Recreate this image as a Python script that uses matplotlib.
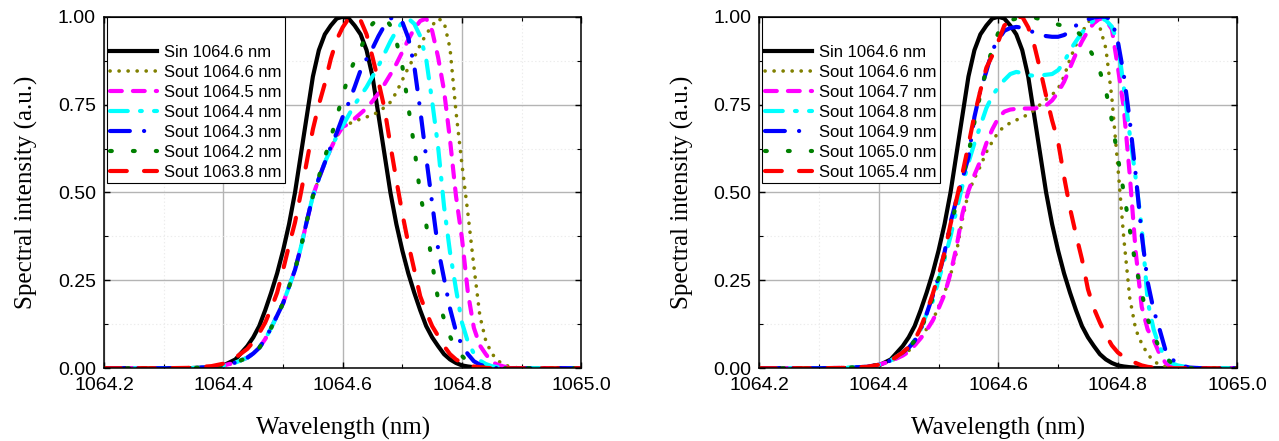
"""
Two-panel spectra: input pulse vs output spectra for several signal wavelengths.
"""

import matplotlib
matplotlib.use("Agg")
import matplotlib.pyplot as plt
from matplotlib.ticker import MultipleLocator

plt.rcParams["lines.scale_dashes"] = False

# wavelength grid (nm): coarse tails, 0.01 nm steps across the spectra
WL = [1064.20, 1064.30, 1064.34, 1064.38, 1064.40, 1064.42,
      1064.44, 1064.45, 1064.46, 1064.47, 1064.48, 1064.49, 1064.50, 1064.51, 1064.52, 1064.53,
      1064.54, 1064.55, 1064.56, 1064.57, 1064.58, 1064.59, 1064.60, 1064.61, 1064.62, 1064.63,
      1064.64, 1064.65, 1064.66, 1064.67, 1064.68, 1064.69, 1064.70, 1064.71, 1064.72, 1064.73,
      1064.74, 1064.75, 1064.76, 1064.77, 1064.78, 1064.79, 1064.80, 1064.81, 1064.82, 1064.83,
      1064.84, 1064.85, 1064.86, 1064.87, 1064.88, 1064.89, 1064.90,
      1064.92, 1064.94, 1065.00]

# input spectrum (same in both panels)
SIN = [0, 0, 0, 0.003, 0.008, 0.025,
       0.063, 0.088, 0.12, 0.165, 0.215, 0.27, 0.335, 0.41, 0.50, 0.61,
       0.72, 0.83, 0.905, 0.95, 0.975, 0.995, 1.0, 0.995, 0.975, 0.95,
       0.905, 0.83, 0.72, 0.61, 0.50, 0.41, 0.335, 0.27, 0.215, 0.165,
       0.12, 0.088, 0.063, 0.04, 0.025, 0.015, 0.008, 0.005, 0.003, 0.002,
       0.001, 0, 0, 0, 0, 0, 0,
       0, 0, 0]

# left panel outputs
LEFT_LABELS = ["Sout 1064.6 nm", "Sout 1064.5 nm", "Sout 1064.4 nm", "Sout 1064.3 nm",
               "Sout 1064.2 nm", "Sout 1063.8 nm"]
L_1064_6 = [0, 0, 0, 0.003, 0.008, 0.016,
            0.03, 0.042, 0.058, 0.083, 0.115, 0.15, 0.185, 0.232, 0.28, 0.345,
            0.42, 0.49, 0.54, 0.585, 0.625, 0.66, 0.687, 0.695, 0.703, 0.709,
            0.715, 0.72, 0.73, 0.742, 0.757, 0.785, 0.82, 0.855, 0.885, 0.92,
            0.95, 0.975, 0.995, 0.985, 0.91, 0.73, 0.58, 0.44, 0.29, 0.15,
            0.078, 0.042, 0.022, 0.01, 0.005, 0.002, 0,
            0, 0, 0]
L_1064_5 = [0, 0, 0, 0.003, 0.008, 0.016,
            0.03, 0.042, 0.058, 0.083, 0.115, 0.15, 0.185, 0.232, 0.28, 0.345,
            0.42, 0.49, 0.54, 0.585, 0.625, 0.66, 0.687, 0.695, 0.71, 0.725,
            0.74, 0.76, 0.782, 0.808, 0.836, 0.866, 0.90, 0.935, 0.966, 0.988,
            0.995, 0.96, 0.885, 0.79, 0.65, 0.49, 0.37, 0.215, 0.115, 0.065,
            0.04, 0.018, 0.01, 0.005, 0.002, 0, 0,
            0, 0, 0]
L_1064_4 = [0, 0, 0, 0.003, 0.008, 0.016,
            0.03, 0.042, 0.058, 0.083, 0.115, 0.15, 0.185, 0.232, 0.28, 0.345,
            0.42, 0.49, 0.54, 0.585, 0.625, 0.66, 0.69, 0.72, 0.75, 0.775,
            0.80, 0.83, 0.86, 0.895, 0.93, 0.96, 0.985, 0.995, 0.98, 0.945,
            0.88, 0.76, 0.63, 0.46, 0.33, 0.225, 0.13, 0.075, 0.042, 0.022,
            0.012, 0.006, 0.003, 0.001, 0, 0, 0,
            0, 0, 0]
L_1064_3 = [0, 0, 0, 0.003, 0.008, 0.016,
            0.03, 0.042, 0.058, 0.083, 0.115, 0.15, 0.185, 0.232, 0.28, 0.345,
            0.42, 0.49, 0.54, 0.585, 0.63, 0.67, 0.715, 0.755, 0.80, 0.848,
            0.88, 0.91, 0.945, 0.975, 0.995, 1.0, 0.985, 0.94, 0.86, 0.735,
            0.60, 0.47, 0.34, 0.255, 0.17, 0.105, 0.065, 0.04, 0.02, 0.01,
            0.005, 0.002, 0, 0, 0, 0, 0,
            0, 0, 0]
L_1064_2 = [0, 0, 0, 0.003, 0.008, 0.016,
            0.03, 0.042, 0.058, 0.083, 0.115, 0.15, 0.185, 0.232, 0.28, 0.345,
            0.42, 0.49, 0.545, 0.60, 0.655, 0.715, 0.775, 0.835, 0.875, 0.91,
            0.95, 0.98, 0.995, 1.0, 0.975, 0.93, 0.86, 0.745, 0.63, 0.495,
            0.41, 0.30, 0.195, 0.14, 0.09, 0.057, 0.035, 0.018, 0.008, 0.004,
            0.002, 0, 0, 0, 0, 0, 0,
            0, 0, 0]
L_1063_8 = [0, 0, 0.001, 0.006, 0.013, 0.03,
            0.055, 0.075, 0.10, 0.13, 0.17, 0.215, 0.28, 0.35, 0.415, 0.50,
            0.59, 0.68, 0.75, 0.81, 0.88, 0.935, 0.97, 0.995, 1.0, 0.99,
            0.95, 0.885, 0.815, 0.74, 0.635, 0.535, 0.44, 0.355, 0.28, 0.205,
            0.16, 0.12, 0.092, 0.063, 0.04, 0.025, 0.015, 0.008, 0.005, 0.003,
            0.001, 0, 0, 0, 0, 0, 0,
            0, 0, 0]

# right panel outputs
RIGHT_LABELS = ["Sout 1064.6 nm", "Sout 1064.7 nm", "Sout 1064.8 nm", "Sout 1064.9 nm",
                "Sout 1065.0 nm", "Sout 1065.4 nm"]
R_1064_6 = [0, 0, 0.001, 0.004, 0.01, 0.02,
            0.038, 0.05, 0.065, 0.085, 0.112, 0.135, 0.175, 0.215, 0.265, 0.33,
            0.425, 0.50, 0.54, 0.575, 0.615, 0.645, 0.672, 0.688, 0.698, 0.706,
            0.714, 0.722, 0.735, 0.75, 0.765, 0.778, 0.795, 0.83, 0.88, 0.92,
            0.955, 0.985, 0.995, 0.97, 0.91, 0.77, 0.575, 0.37, 0.20, 0.11,
            0.07, 0.04, 0.02, 0.01, 0.005, 0.002, 0,
            0, 0, 0]
R_1064_7 = [0, 0, 0.001, 0.004, 0.01, 0.02,
            0.036, 0.047, 0.065, 0.085, 0.108, 0.135, 0.17, 0.21, 0.27, 0.345,
            0.44, 0.505, 0.55, 0.59, 0.64, 0.68, 0.712, 0.73, 0.736, 0.738,
            0.739, 0.739, 0.739, 0.742, 0.748, 0.762, 0.785, 0.815, 0.855, 0.895,
            0.93, 0.96, 0.982, 0.995, 0.99, 0.965, 0.857, 0.74, 0.55, 0.33,
            0.175, 0.11, 0.08, 0.04, 0.015, 0.004, 0,
            0, 0, 0]
R_1064_8 = [0, 0, 0.001, 0.004, 0.01, 0.022,
            0.045, 0.06, 0.08, 0.11, 0.155, 0.19, 0.25, 0.31, 0.375, 0.45,
            0.52, 0.585, 0.64, 0.69, 0.74, 0.775, 0.80, 0.82, 0.837, 0.843,
            0.84, 0.834, 0.832, 0.833, 0.835, 0.837, 0.848, 0.87, 0.905, 0.93,
            0.955, 0.975, 0.99, 0.998, 0.99, 0.972, 0.925, 0.80, 0.665, 0.54,
            0.40, 0.19, 0.11, 0.06, 0.03, 0.015, 0.008,
            0.002, 0, 0]
R_1064_9 = [0, 0, 0.001, 0.004, 0.01, 0.022,
            0.045, 0.058, 0.078, 0.11, 0.155, 0.205, 0.26, 0.33, 0.415, 0.48,
            0.54, 0.60, 0.715, 0.79, 0.845, 0.905, 0.935, 0.96, 0.968, 0.971,
            0.969, 0.963, 0.955, 0.95, 0.945, 0.943, 0.943, 0.948, 0.958, 0.975,
            0.985, 0.993, 0.998, 1.0, 1.0, 0.99, 0.93, 0.835, 0.705, 0.55,
            0.38, 0.245, 0.165, 0.11, 0.05, 0.028, 0.01,
            0.002, 0, 0]
R_1065_0 = [0, 0, 0.001, 0.004, 0.01, 0.022,
            0.045, 0.058, 0.078, 0.11, 0.15, 0.20, 0.255, 0.32, 0.40, 0.47,
            0.54, 0.61, 0.70, 0.78, 0.85, 0.91, 0.955, 0.975, 0.99, 0.995,
            0.998, 1.0, 0.998, 0.993, 0.987, 0.982, 0.978, 0.973, 0.967, 0.96,
            0.945, 0.915, 0.885, 0.845, 0.79, 0.705, 0.60, 0.50, 0.395, 0.29,
            0.215, 0.14, 0.095, 0.055, 0.03, 0.015, 0.008,
            0, 0, 0]
R_1065_4 = [0, 0, 0.001, 0.004, 0.01, 0.022,
            0.045, 0.06, 0.08, 0.115, 0.16, 0.21, 0.265, 0.33, 0.41, 0.48,
            0.555, 0.635, 0.72, 0.79, 0.855, 0.89, 0.93, 0.975, 0.99, 0.998,
            1.0, 0.97, 0.92, 0.85, 0.775, 0.705, 0.645, 0.545, 0.455, 0.38,
            0.31, 0.225, 0.17, 0.13, 0.095, 0.065, 0.045, 0.032, 0.022, 0.015,
            0.008, 0.004, 0.002, 0, 0, 0, 0,
            0, 0, 0]

# line styles for the six output curves (colour, dash pattern in pt, width)
STYLES = [
    ("#808000", (0, (0.1, 6.4)), 2.6),
    ("#ff00ff", (0, (8.5, 8.0)), 3.0),
    ("#00ffff", (0, (12.8, 8.8, 1.3, 8.8)), 3.0),
    ("#0000ff", (0, (14.3, 10.2, 0.1, 10.2)), 3.0),
    ("#008000", (0, (1.3, 15.2)), 3.0),
    ("#ff0000", (0, (12.1, 12.4)), 3.0),
]

SANS = "Liberation Sans"
SERIF = "Liberation Serif"


def draw_panel(ax, outs, labels):
    ax.plot(WL, SIN, color="black", lw=3.0, label="Sin 1064.6 nm")
    for ys, lab, (col, ls, lw) in zip(outs, labels, STYLES):
        ax.plot(WL, ys, color=col, ls=ls, lw=lw, dash_capstyle="round", label=lab)

    ax.set_xlim(1064.2, 1065.0)
    ax.set_ylim(0, 1.0)
    ax.xaxis.set_major_locator(MultipleLocator(0.2))
    ax.xaxis.set_minor_locator(MultipleLocator(0.1))
    ax.yaxis.set_major_locator(MultipleLocator(0.25))
    ax.yaxis.set_minor_locator(MultipleLocator(0.125))
    ax.xaxis.set_major_formatter(plt.FormatStrFormatter("%.1f"))
    ax.yaxis.set_major_formatter(plt.FormatStrFormatter("%.2f"))

    ax.grid(which="major", color="#b4b4b4", lw=1.0)
    ax.grid(which="minor", color="#ececec", lw=0.8, ls=":")
    ax.set_axisbelow(True)

    ax.tick_params(which="both", direction="in", top=True, right=True, pad=6)
    ax.tick_params(which="major", length=4, width=1.0, labelsize=14)
    ax.tick_params(which="minor", length=3, width=0.8)
    for lab in ax.get_xticklabels() + ax.get_yticklabels():
        lab.set_fontfamily(SANS)
    for sp in ax.spines.values():
        sp.set_linewidth(1.1)

    ax.set_xlabel("Wavelength (nm)", fontfamily=SERIF, fontsize=18, labelpad=17)
    ax.set_ylabel("Spectral intensity (a.u.)", fontfamily=SERIF, fontsize=18, labelpad=14)

    # blank title row reproduces the empty band at the top of the legend box
    leg = ax.legend(loc="upper left", bbox_to_anchor=(0.005, 0.998), borderaxespad=0,
                    prop={"family": SANS, "size": 12}, title=" ",
                    title_fontproperties={"family": SANS, "size": 15},
                    handlelength=2.8, handletextpad=0.45, labelspacing=0.3,
                    borderpad=0.2, fancybox=False, framealpha=1.0)
    leg.get_frame().set_edgecolor("black")
    leg.get_frame().set_linewidth(0.8)


fig = plt.figure(figsize=(12.79, 4.41), dpi=100)
ax1 = fig.add_axes([0.0815, 0.165, 0.3729, 0.797])
ax2 = fig.add_axes([0.5937, 0.165, 0.3737, 0.797])

draw_panel(ax1, [L_1064_6, L_1064_5, L_1064_4, L_1064_3, L_1064_2, L_1063_8], LEFT_LABELS)
draw_panel(ax2, [R_1064_6, R_1064_7, R_1064_8, R_1064_9, R_1065_0, R_1065_4], RIGHT_LABELS)

fig.savefig("out.png", dpi=100)
print("[OK] wrote out.png")
